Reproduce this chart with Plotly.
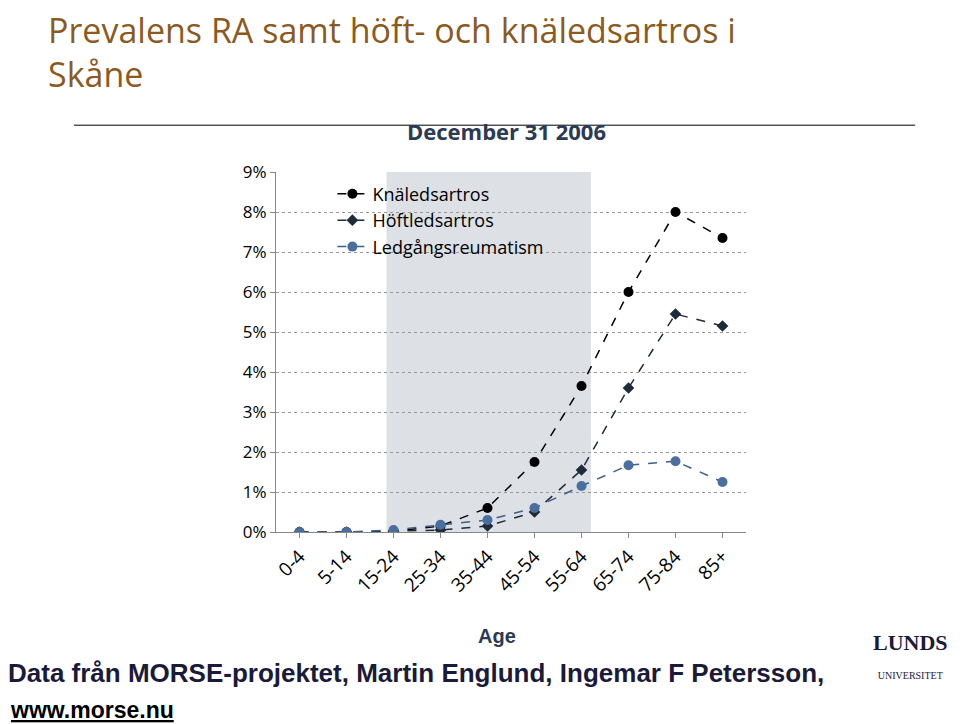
import plotly.graph_objects as go

cats = ["0-4","5-14","15-24","25-34","35-44","45-54","55-64","65-74","75-84","85+"]
kna = [0.0,0.0,0.02,0.15,0.6,1.75,3.65,6.0,8.0,7.35]
hoft = [0.0,0.0,0.02,0.05,0.15,0.5,1.55,3.6,5.45,5.15]
ra = [0.0,0.0,0.05,0.18,0.3,0.6,1.15,1.67,1.77,1.25]
x = list(range(len(cats)))

fig = go.Figure()
fig.add_trace(go.Scatter(x=x, y=kna, name="Knäledsartros", mode="lines+markers",
    line=dict(color="black", dash="dash", width=1.5), marker=dict(symbol="circle", size=10, color="black")))
fig.add_trace(go.Scatter(x=x, y=hoft, name="Höftledsartros", mode="lines+markers",
    line=dict(color="#1f2a3a", dash="dash", width=1.5), marker=dict(symbol="diamond", size=9, color="#1f2a3a")))
fig.add_trace(go.Scatter(x=x, y=ra, name="Ledgångsreumatism", mode="lines+markers",
    line=dict(color="#3d5f8c", dash="dash", width=1.5), marker=dict(symbol="circle", size=10, color="#4a6e9e")))

fig.add_shape(type="rect", xref="x", yref="y", x0=1.85, x1=6.2, y0=0, y1=9,
    fillcolor="#dde1e5", line_width=0, layer="below")
fig.add_shape(type="line", xref="paper", yref="paper", x0=-0.43, x1=1.36, y0=1.13, y1=1.13,
    line=dict(color="black", width=1))

fig.update_layout(
    width=960, height=724, plot_bgcolor="white", paper_bgcolor="white",
    margin=dict(l=268, r=222, t=164, b=200),
    font=dict(family="Liberation Sans", color="black"),
    showlegend=True,
    legend=dict(x=0.12, y=0.99, xanchor="left", yanchor="top", bgcolor="rgba(0,0,0,0)",
                font=dict(size=18, family="Open Sans"), tracegroupgap=4),
    xaxis=dict(tickmode="array", tickvals=x, ticktext=cats, range=[-0.5, 9.5],
               tickangle=-45, tickfont=dict(size=19, family="Open Sans"), showgrid=False,
               showline=True, linecolor="#888", ticks="outside", ticklen=5, tickcolor="#888"),
    yaxis=dict(range=[0, 9], dtick=1, ticksuffix="%", tickfont=dict(size=17, family="Open Sans"),
               showgrid=True, gridcolor="#999", griddash="dot", showline=True, linecolor="#888",
               zeroline=False, ticks="outside", ticklen=5, tickcolor="#888"),
)
fig.add_annotation(text="Prevalens RA samt höft- och knäledsartros i<br>Skåne", xref="paper", yref="paper",
    x=-0.49, y=1.465, xanchor="left", yanchor="top", showarrow=False, align="left",
    font=dict(size=34, color="#8b5a1e", family="Open Sans"))
fig.add_annotation(text="<b>December 31 2006</b>", xref="paper", yref="paper", x=0.49, y=1.114,
    xanchor="center", yanchor="middle", showarrow=False, font=dict(size=22, color="#2b3a55", family="Open Sans"))
fig.add_annotation(text="<b>Age</b>", xref="paper", yref="paper", x=0.47, y=-0.325,
    showarrow=False, font=dict(size=20, color="#2b3a55"))
fig.add_annotation(text="<b>Data från MORSE-projektet, Martin Englund, Ingemar F Petersson,</b>", xref="paper",
    yref="paper", x=-0.575, y=-0.44, xanchor="left", showarrow=False, font=dict(size=26, color="#1a1a3a"))
fig.add_annotation(text="<b><u>www.morse.nu</u></b>", xref="paper", yref="paper", x=-0.57, y=-0.535,
    xanchor="left", showarrow=False, font=dict(size=23, color="black"))
fig.add_annotation(text="<b>LUNDS</b><br><span style='font-size:10px'>UNIVERSITET</span>", xref="paper", yref="paper",
    x=1.35, y=-0.42, xanchor="center", showarrow=False, font=dict(size=22, color="#1a1a3a", family="Liberation Serif"))
fig.write_html("out.html")
